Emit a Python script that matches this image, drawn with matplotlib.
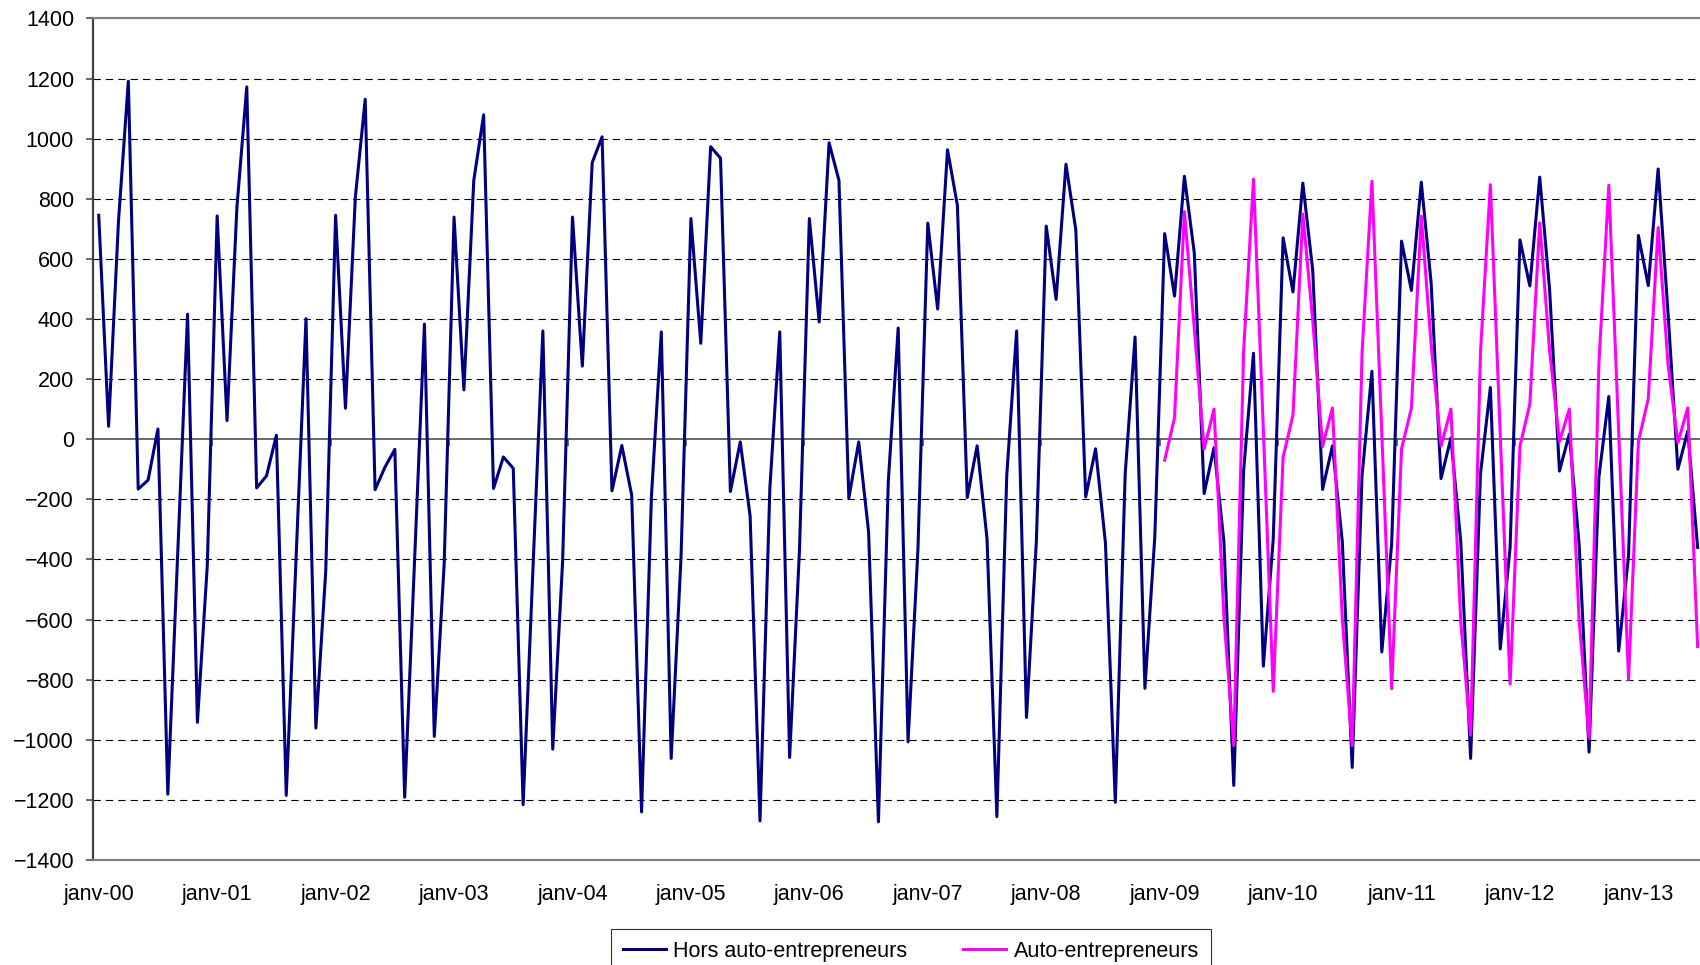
import numpy as np
import matplotlib.pyplot as plt

plt.rcParams['font.family'] = ['Liberation Sans', 'DejaVu Sans']
plt.rcParams['lines.scale_dashes'] = False

# monthly series, janv-00 .. juil-13
years = ['00', '01', '02', '03', '04', '05', '06', '07', '08', '09', '10', '11', '12', '13']
tick_labels = ['janv-' + y for y in years]

hors_auto = [
    745, 43, 724, 1191, -166, -136, 34, -1181, -385, 416, -942, -420,      # 2000
    743, 62, 771, 1172, -162, -122, 13, -1185, -392, 401, -961, -440,      # 2001
    745, 103, 805, 1131, -168, -93, -34, -1191, -403, 383, -989, -415,     # 2002
    739, 164, 861, 1079, -164, -59, -97, -1216, -428, 360, -1031, -407,    # 2003
    739, 243, 920, 1006, -172, -21, -186, -1240, -190, 357, -1062, -392,   # 2004
    734, 319, 973, 935, -174, -9, -256, -1270, -162, 357, -1059, -368,     # 2005
    734, 390, 986, 861, -196, -9, -308, -1273, -140, 370, -1007, -368,     # 2006
    719, 433, 963, 778, -194, -22, -330, -1256, -121, 360, -926, -340,     # 2007
    709, 465, 915, 696, -192, -32, -345, -1208, -116, 340, -829, -326,     # 2008
    684, 476, 875, 620, -181, -28, -340, -1152, -105, 286, -755, -333,     # 2009
    670, 490, 852, 562, -167, -22, -341, -1092, -121, 226, -708, -349,     # 2010
    659, 495, 855, 520, -131, 4, -340, -1062, -115, 172, -698, -360,       # 2011
    663, 510, 872, 499, -106, 17, -352, -1041, -125, 142, -705, -388,      # 2012
    678, 511, 899, 420, -100, 27, -360,                                    # 2013
]

auto_entr = [
    -70, 71, 757, 370, -33, 100, -590, -1019, 293, 865, 30, -839,          # 2009
    -60, 80, 749, 396, -24, 104, -600, -1020, 288, 858, 20, -830,          # 2010
    -32, 103, 742, 315, -23, 100, -606, -985, 291, 847, 16, -815,          # 2011
    -23, 117, 720, 295, -8, 100, -606, -995, 254, 845, 25, -800,           # 2012
    -8, 135, 704, 250, -12, 104, -690,                                     # 2013
]
auto_start = 108  # janv-09

fig = plt.figure(figsize=(17, 9.65), dpi=100)
ax = fig.add_axes([93 / 1700, 1 - 860 / 965, 1 - 93 / 1700, (860 - 18.4) / 965])

x_h = np.arange(len(hors_auto))
x_a = np.arange(auto_start, auto_start + len(auto_entr))
ax.plot(x_h, hors_auto, color='#000080', lw=2.2, label='Hors auto-entrepreneurs', zorder=3)
ax.plot(x_a, auto_entr, color='#ff00ff', lw=2.2, label='Auto-entrepreneurs', zorder=4)

ax.set_xlim(-0.58, 162.24)
ax.set_ylim(-1400, 1400)

# dashed grid, solid zero line with month-boundary ticks
for y in range(-1200, 1201, 200):
    if y != 0:
        ax.axhline(y, color='black', lw=0.8, ls=(0, (5.3, 3.6)), zorder=1)
ax.axhline(0, color='#404040', lw=1.1, zorder=2)
ax.vlines(np.arange(11.5, 162, 12), -24, 0, color='#404040', lw=1.1, zorder=2)

ax.set_yticks(range(-1400, 1401, 200))
ax.tick_params(axis='y', length=5, width=1.1, color='#404040', pad=8.6, labelsize=15.5)
ax.set_xticks(np.arange(0, 157, 12))
ax.set_xticklabels(tick_labels)
ax.tick_params(axis='x', length=0, pad=17.4, labelsize=15.5)

ax.spines['right'].set_visible(False)
ax.spines['top'].set_color('#808080')
ax.spines['top'].set_linewidth(1.5)
ax.spines['bottom'].set_color('#808080')
ax.spines['bottom'].set_linewidth(1.5)
ax.spines['left'].set_color('#404040')
ax.spines['left'].set_linewidth(1.6)

leg = fig.legend(loc='upper center', bbox_to_anchor=(911 / 1700, 1 - 929 / 965), ncol=2,
                 frameon=True, fancybox=False, edgecolor='black', fontsize=15.5,
                 handlelength=2.0, handletextpad=0.35, columnspacing=2.6,
                 borderpad=0.55, borderaxespad=0)
leg.get_frame().set_linewidth(0.8)

fig.savefig('out.png', dpi=100)
